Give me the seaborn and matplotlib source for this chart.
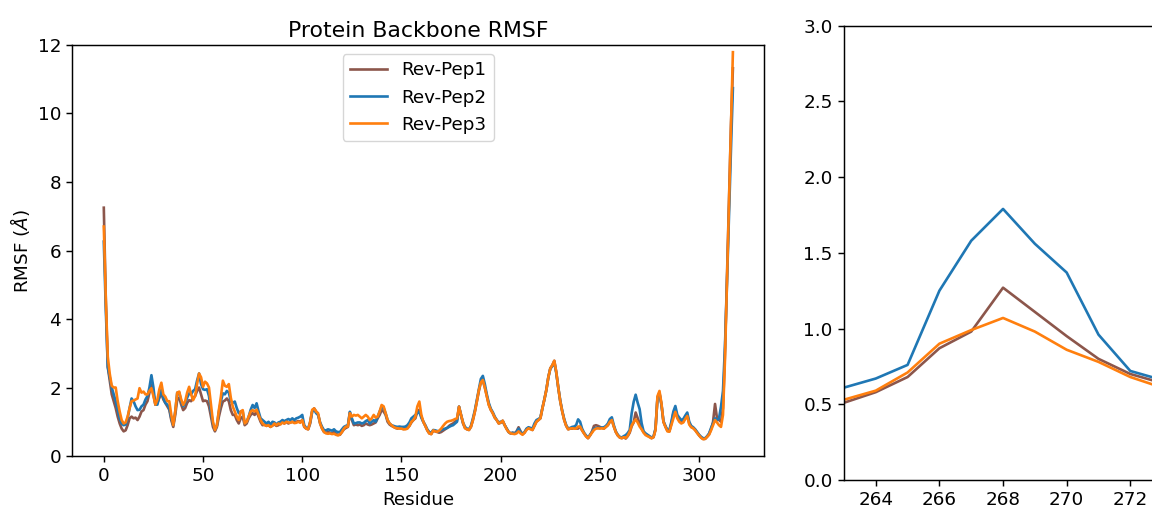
import numpy as np
import pandas as pd
import matplotlib
matplotlib.use("Agg")
import matplotlib.pyplot as plt
import seaborn as sns

series_names = ["Rev-Pep1", "Rev-Pep2", "Rev-Pep3"]
series_colors = ["#8c564b", "#1f77b4", "#ff7f0e"]

residues = list(range(318))

rmsf_pep1 = [
    7.25, 4.6, 2.6, 2.2, 1.8, 1.6, 1.4, 1.15, 0.95, 0.8,
    0.72, 0.75, 0.9, 1.1, 1.15, 1.1, 1.12, 1.05, 1.15, 1.3,
    1.34, 1.5, 1.6, 1.85, 2.07, 1.8, 1.5, 1.55, 1.7, 1.83,
    1.65, 1.55, 1.45, 1.35, 1.05, 0.85, 1.2, 1.65, 1.7, 1.5,
    1.34, 1.4, 1.55, 1.63, 1.6, 1.7, 1.75, 1.9, 2.0, 1.8,
    1.6, 1.62, 1.6, 1.45, 1.15, 0.85, 0.72, 0.85, 1.15, 1.4,
    1.59, 1.62, 1.68, 1.6, 1.34, 1.2, 1.2, 1.05, 0.95, 1.1,
    1.15, 0.9, 0.95, 1.1, 1.2, 1.25, 1.2, 1.3, 1.15, 1.0,
    0.9, 0.92, 0.88, 0.9, 0.85, 0.9, 0.92, 0.88, 0.9, 0.95,
    0.98, 0.95, 1.0, 0.95, 0.98, 1.0, 0.98, 1.0, 1.02, 1.0,
    1.05, 0.85, 0.8, 0.78, 0.95, 1.3, 1.39, 1.3, 1.2, 0.95,
    0.8, 0.7, 0.68, 0.7, 0.68, 0.66, 0.7, 0.64, 0.62, 0.62,
    0.7, 0.78, 0.82, 0.85, 1.28, 1.05, 0.9, 0.92, 0.9, 0.92,
    0.88, 0.9, 0.95, 0.92, 0.9, 0.92, 0.95, 0.98, 1.1, 1.2,
    1.34, 1.3, 1.2, 1.0, 0.92, 0.88, 0.85, 0.82, 0.8, 0.82,
    0.8, 0.79, 0.8, 0.82, 0.88, 0.98, 1.05, 1.1, 1.3, 1.35,
    1.15, 1.0, 0.88, 0.75, 0.66, 0.64, 0.74, 0.72, 0.7, 0.68,
    0.7, 0.74, 0.78, 0.82, 0.88, 0.92, 0.95, 1.0, 1.05, 1.44,
    1.2, 0.95, 0.82, 0.78, 0.76, 0.85, 1.05, 1.3, 1.6, 1.9,
    2.15, 2.2, 2.0, 1.75, 1.5, 1.35, 1.25, 1.12, 1.05, 0.95,
    0.97, 1.03, 0.9, 0.8, 0.7, 0.66, 0.68, 0.66, 0.72, 0.84,
    0.72, 0.64, 0.68, 0.78, 0.82, 0.8, 0.76, 0.88, 1.0, 1.05,
    1.1, 1.39, 1.65, 1.93, 2.3, 2.56, 2.65, 2.78, 2.45, 2.0,
    1.6, 1.3, 1.05, 0.88, 0.78, 0.8, 0.8, 0.82, 0.8, 0.8,
    0.86, 0.75, 0.66, 0.58, 0.52, 0.6, 0.72, 0.88, 0.9, 0.88,
    0.85, 0.82, 0.8, 0.85, 0.9, 1.0, 1.05, 0.86, 0.7, 0.6,
    0.54, 0.52, 0.55, 0.51, 0.58, 0.68, 0.87, 0.98, 1.27, 1.11,
    0.95, 0.80, 0.70, 0.64, 0.6, 0.56, 0.52, 0.55, 0.78, 1.7,
    1.85, 1.5, 1.0, 0.86, 0.74, 0.72, 0.95, 1.25, 1.35, 1.15,
    1.05, 0.98, 1.0, 1.12, 1.2, 0.95, 0.85, 0.82, 0.76, 0.68,
    0.6, 0.54, 0.5, 0.5, 0.56, 0.64, 0.78, 1.0, 1.52, 1.1,
    1.05, 1.0, 1.4, 3.0, 5.2, 7.5, 9.6, 11.32,
]

rmsf_pep2 = [
    6.26, 4.3, 2.6, 2.3, 2.0, 1.8, 1.6, 1.35, 1.1, 0.95,
    0.9, 0.92, 1.1, 1.4, 1.68, 1.6, 1.45, 1.34, 1.35, 1.45,
    1.5, 1.65, 1.75, 2.0, 2.36, 2.0, 1.5, 1.5, 1.75, 1.93,
    1.7, 1.55, 1.5, 1.4, 1.1, 0.9, 1.3, 1.85, 1.85, 1.6,
    1.45, 1.55, 1.7, 1.83, 1.8, 1.9, 1.95, 2.2, 2.41, 2.1,
    1.95, 1.93, 1.95, 1.75, 1.3, 0.95, 0.76, 0.9, 1.3, 1.6,
    1.83, 1.8, 1.9, 1.85, 1.6, 1.55, 1.59, 1.4, 1.25, 1.3,
    1.3, 0.95, 1.0, 1.15, 1.35, 1.49, 1.4, 1.54, 1.3, 1.1,
    1.05, 1.0, 0.95, 1.0, 0.92, 1.0, 0.98, 0.92, 0.98, 1.0,
    1.05, 1.02, 1.05, 1.08, 1.05, 1.1, 1.05, 1.1, 1.12, 1.15,
    1.2, 0.9, 0.82, 0.8, 1.0, 1.3, 1.35, 1.25, 1.2, 0.98,
    0.85, 0.75, 0.75, 0.78, 0.76, 0.74, 0.78, 0.72, 0.7, 0.7,
    0.78, 0.85, 0.88, 0.9, 1.29, 1.1, 0.95, 0.96, 0.98, 0.98,
    0.95, 0.97, 1.02, 1.05, 0.95, 1.0, 1.05, 1.0, 1.15, 1.3,
    1.44, 1.4, 1.25, 1.05, 0.95, 0.9, 0.88, 0.86, 0.85, 0.86,
    0.85, 0.85, 0.86, 0.9, 0.98, 1.1, 1.15, 1.2, 1.25, 1.29,
    1.12, 1.0, 0.9, 0.78, 0.7, 0.68, 0.76, 0.75, 0.73, 0.72,
    0.76, 0.78, 0.8, 0.82, 0.85, 0.88, 0.9, 0.95, 1.0, 1.44,
    1.2, 0.98, 0.85, 0.8, 0.78, 0.88, 1.1, 1.34, 1.65, 1.95,
    2.25, 2.34, 2.1, 1.8, 1.55, 1.38, 1.28, 1.15, 1.05, 0.98,
    1.0, 1.02, 0.9, 0.8, 0.7, 0.66, 0.68, 0.66, 0.7, 0.8,
    0.7, 0.64, 0.7, 0.8, 0.84, 0.82, 0.8, 0.95, 1.05, 1.08,
    1.12, 1.4, 1.65, 1.93, 2.3, 2.55, 2.62, 2.75, 2.42, 2.0,
    1.62, 1.32, 1.08, 0.9, 0.8, 0.82, 0.85, 0.86, 0.9, 1.07,
    1.0, 0.8, 0.68, 0.6, 0.54, 0.62, 0.7, 0.8, 0.82, 0.82,
    0.82, 0.83, 0.84, 0.88, 0.95, 1.08, 1.13, 0.9, 0.72, 0.62,
    0.56, 0.54, 0.58, 0.61, 0.67, 0.76, 1.25, 1.58, 1.79, 1.56,
    1.37, 0.96, 0.72, 0.66, 0.62, 0.58, 0.54, 0.57, 0.8, 1.7,
    1.82, 1.5, 1.02, 0.88, 0.76, 0.76, 1.0, 1.3, 1.46, 1.2,
    1.12, 1.05, 1.08, 1.18, 1.27, 1.0, 0.88, 0.84, 0.78, 0.7,
    0.62, 0.56, 0.52, 0.52, 0.58, 0.66, 0.82, 0.95, 1.1, 1.05,
    1.1, 1.44, 1.9, 3.2, 5.0, 7.0, 8.9, 10.74,
]

rmsf_pep3 = [
    6.70, 4.6, 2.9, 2.4, 2.05, 2.0, 2.0, 1.6, 1.3, 1.05,
    0.95, 0.98, 1.15, 1.4, 1.6, 1.62, 1.65, 1.68, 1.98, 1.85,
    1.88, 1.8, 1.8, 1.9, 1.98, 1.75, 1.5, 1.65, 1.95, 2.14,
    1.8, 1.73, 1.6, 1.6, 1.2, 0.9, 1.3, 1.85, 1.88, 1.65,
    1.49, 1.6, 1.85, 2.02, 1.8, 1.63, 1.75, 2.1, 2.41, 2.3,
    2.02, 2.17, 2.12, 2.0, 1.5, 1.0, 0.76, 0.9, 1.35, 1.73,
    2.2, 2.05, 2.02, 2.1, 1.7, 1.44, 1.3, 1.15, 1.05, 1.3,
    1.34, 0.95, 1.0, 1.15, 1.3, 1.34, 1.3, 1.35, 1.2, 1.05,
    0.95, 0.9, 0.88, 0.9, 0.85, 0.88, 0.95, 0.9, 0.95, 0.92,
    0.98, 0.95, 1.0, 0.98, 0.97, 1.0, 0.96, 0.97, 1.0, 0.97,
    1.05, 0.86, 0.8, 0.78, 1.0, 1.35, 1.39, 1.3, 1.25, 0.95,
    0.8, 0.7, 0.66, 0.65, 0.66, 0.64, 0.65, 0.62, 0.6, 0.63,
    0.7, 0.8, 0.86, 0.86, 1.25, 1.15, 1.2, 1.18, 1.2, 1.15,
    1.1, 1.15, 1.2, 1.15, 1.05, 1.1, 1.2, 1.12, 1.15, 1.3,
    1.49, 1.45, 1.25, 1.05, 0.95, 0.9, 0.85, 0.82, 0.81, 0.8,
    0.8, 0.78, 0.78, 0.8, 0.88, 1.0, 1.05, 1.15, 1.45, 1.59,
    1.2, 1.0, 0.88, 0.75, 0.66, 0.64, 0.75, 0.72, 0.71, 0.74,
    0.8, 0.88, 0.95, 1.0, 1.02, 1.03, 1.05, 1.08, 1.1, 1.44,
    1.2, 0.98, 0.81, 0.78, 0.76, 0.85, 1.05, 1.3, 1.6, 1.93,
    2.15, 2.22, 2.0, 1.75, 1.49, 1.35, 1.25, 1.12, 1.05, 0.95,
    0.98, 1.03, 0.9, 0.78, 0.7, 0.66, 0.65, 0.64, 0.66, 0.72,
    0.66, 0.62, 0.68, 0.76, 0.81, 0.78, 0.76, 0.88, 1.0, 1.05,
    1.1, 1.39, 1.65, 1.93, 2.3, 2.56, 2.65, 2.78, 2.45, 2.0,
    1.6, 1.3, 1.05, 0.88, 0.78, 0.8, 0.81, 0.8, 0.8, 0.86,
    0.86, 0.75, 0.66, 0.57, 0.52, 0.6, 0.68, 0.76, 0.8, 0.81,
    0.8, 0.81, 0.8, 0.85, 0.9, 1.0, 1.05, 0.86, 0.7, 0.6,
    0.54, 0.52, 0.55, 0.53, 0.59, 0.71, 0.90, 0.99, 1.07, 0.98,
    0.86, 0.78, 0.68, 0.61, 0.58, 0.55, 0.52, 0.55, 0.76, 1.75,
    1.9, 1.54, 1.0, 0.85, 0.72, 0.71, 0.9, 1.1, 1.29, 1.1,
    1.0, 0.95, 0.98, 1.08, 1.17, 0.92, 0.84, 0.81, 0.75, 0.67,
    0.6, 0.53, 0.49, 0.5, 0.56, 0.62, 0.75, 0.9, 1.05, 0.98,
    0.9, 0.85, 1.2, 2.8, 5.0, 7.3, 9.6, 11.79,
]

title_text = "Protein Backbone RMSF"
xlabel_text = "Residue"
ylabel_text = r"RMSF ($\AA$)"

df = pd.DataFrame({
    "Residue": residues * 3,
    "RMSF": rmsf_pep1 + rmsf_pep2 + rmsf_pep3,
    "Series": [series_names[0]] * len(residues)
    + [series_names[1]] * len(residues)
    + [series_names[2]] * len(residues),
})

plt.rcParams["font.family"] = ["DejaVu Sans"]

fig = plt.figure(figsize=(11.52, 5.09), dpi=100)
ax1 = fig.add_axes([0.0628, 0.1041, 0.6007, 0.8075])
ax2 = fig.add_axes([0.7326, 0.0570, 0.3038, 0.8925])

palette = dict(zip(series_names, series_colors))
for ax in (ax1, ax2):
    sns.lineplot(data=df, x="Residue", y="RMSF", hue="Series",
                 palette=palette, linewidth=1.9, ax=ax, legend=(ax is ax1))

fs = 13.2
ax1.set_xlim(-15.85, 332.85)
ax1.set_ylim(0, 12)
ax1.set_xticks([0, 50, 100, 150, 200, 250, 300])
ax1.set_yticks([0, 2, 4, 6, 8, 10, 12])
ax1.set_title(title_text, fontsize=15.8)
ax1.set_xlabel(xlabel_text, fontsize=fs)
ax1.set_ylabel(ylabel_text, fontsize=fs)
ax1.tick_params(labelsize=fs, length=4.6, width=1.05)
leg = ax1.legend(loc="upper center", fontsize=fs, title=None)

ax2.set_xlim(263, 274)
ax2.set_ylim(0, 3)
ax2.set_xticks([264, 266, 268, 270, 272])
ax2.set_yticks([0.0, 0.5, 1.0, 1.5, 2.0, 2.5, 3.0])
ax2.set_xlabel("")
ax2.set_ylabel("")
ax2.tick_params(labelsize=fs, length=4.6, width=1.05)

for ax in (ax1, ax2):
    for sp in ax.spines.values():
        sp.set_linewidth(1.05)

fig.savefig("out.png", dpi=100)
